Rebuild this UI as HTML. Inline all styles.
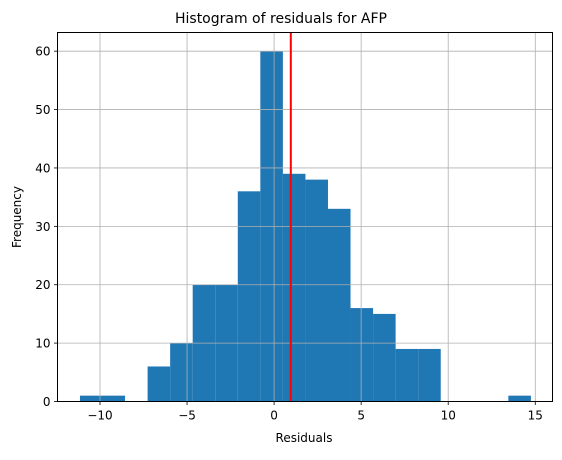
<!DOCTYPE html>
<html><head><meta charset="utf-8"><style>
body{margin:0;background:#fff;}
svg text{font-family:"DejaVu Sans","Liberation Sans",sans-serif;fill:#000;}
</style></head><body>
<svg id="chart" width="562" height="455" xmlns="http://www.w3.org/2000/svg">
<rect width="562" height="455" fill="#fff"/>
<g id="bars"></g>
<g id="grid"></g>
<g id="ref"></g>
<rect x="57.5" y="32.5" width="495" height="369" fill="none" stroke="#000" stroke-width="1"/>
<g id="xt"></g>
<g id="yt"></g>
<text x="281" y="23" font-size="14" text-anchor="middle">Histogram of residuals for AFP</text>
<text x="304" y="442" font-size="12" text-anchor="middle">Residuals</text>
<text x="21" y="217" font-size="12" text-anchor="middle" transform="rotate(-90 21 217)">Frequency</text>
</svg>
<script>
const binStart = -11.15;
const binEnd = 14.75;
const counts = [1,1,0,6,10,20,20,36,60,39,38,33,16,15,9,9,0,0,0,1];
const xTicks = [-10,-5,0,5,10,15];
const yTicks = [0,10,20,30,40,50,60];
const meanValue = 0.96;
const NS="http://www.w3.org/2000/svg";
const X0=57.5,X1=552.5,Y0=401.5,Y1=32.5;
const xmin=-12.44,xmax=15.99,ymin=0,ymax=63.2;
const sx=v=>X0+(v-xmin)/(xmax-xmin)*(X1-X0);
const sy=v=>Y0-(v-ymin)/(ymax-ymin)*(Y0-Y1);
function mk(t,a,p){const e=document.createElementNS(NS,t);for(const k in a)e.setAttribute(k,a[k]);p.appendChild(e);return e;}
const bw=(binEnd-binStart)/counts.length;
const bars=document.getElementById('bars');
counts.forEach((c,i)=>{if(!c)return;
 const l=sx(binStart+i*bw),r=sx(binStart+(i+1)*bw);
 const e=mk('rect',{x:l,y:sy(c),width:r-l,height:sy(0)-sy(c),fill:'#1f77b4'},bars);
 
 
});
const grid=document.getElementById('grid'),xt=document.getElementById('xt'),yt=document.getElementById('yt');
xTicks.forEach(v=>{const x=sx(v);
 mk('line',{x1:x,x2:x,y1:Y1,y2:Y0,stroke:'#b0b0b0','stroke-width':0.8},grid);
 mk('line',{x1:x,x2:x,y1:Y0,y2:Y0+3.5,stroke:'#000','stroke-width':0.8},xt);
 const t=mk('text',{x:x,y:Y0+18,'font-size':12,'text-anchor':'middle'},xt);t.textContent=v<0?'\u2212'+(-v):v;
 
 
});
yTicks.forEach(v=>{const y=sy(v);
 mk('line',{x1:X0,x2:X1,y1:y,y2:y,stroke:'#b0b0b0','stroke-width':0.8},grid);
 mk('line',{x1:X0-3.5,x2:X0,y1:y,y2:y,stroke:'#000','stroke-width':0.8},yt);
 const t=mk('text',{x:X0-7,y:y+4.5,'font-size':12,'text-anchor':'end'},yt);t.textContent=v;
 
 
});
const ml=mk('line',{x1:sx(meanValue),x2:sx(meanValue),y1:Y1,y2:Y0,stroke:'#ff0000','stroke-width':2},document.getElementById('ref'));


</script>
</body></html>
